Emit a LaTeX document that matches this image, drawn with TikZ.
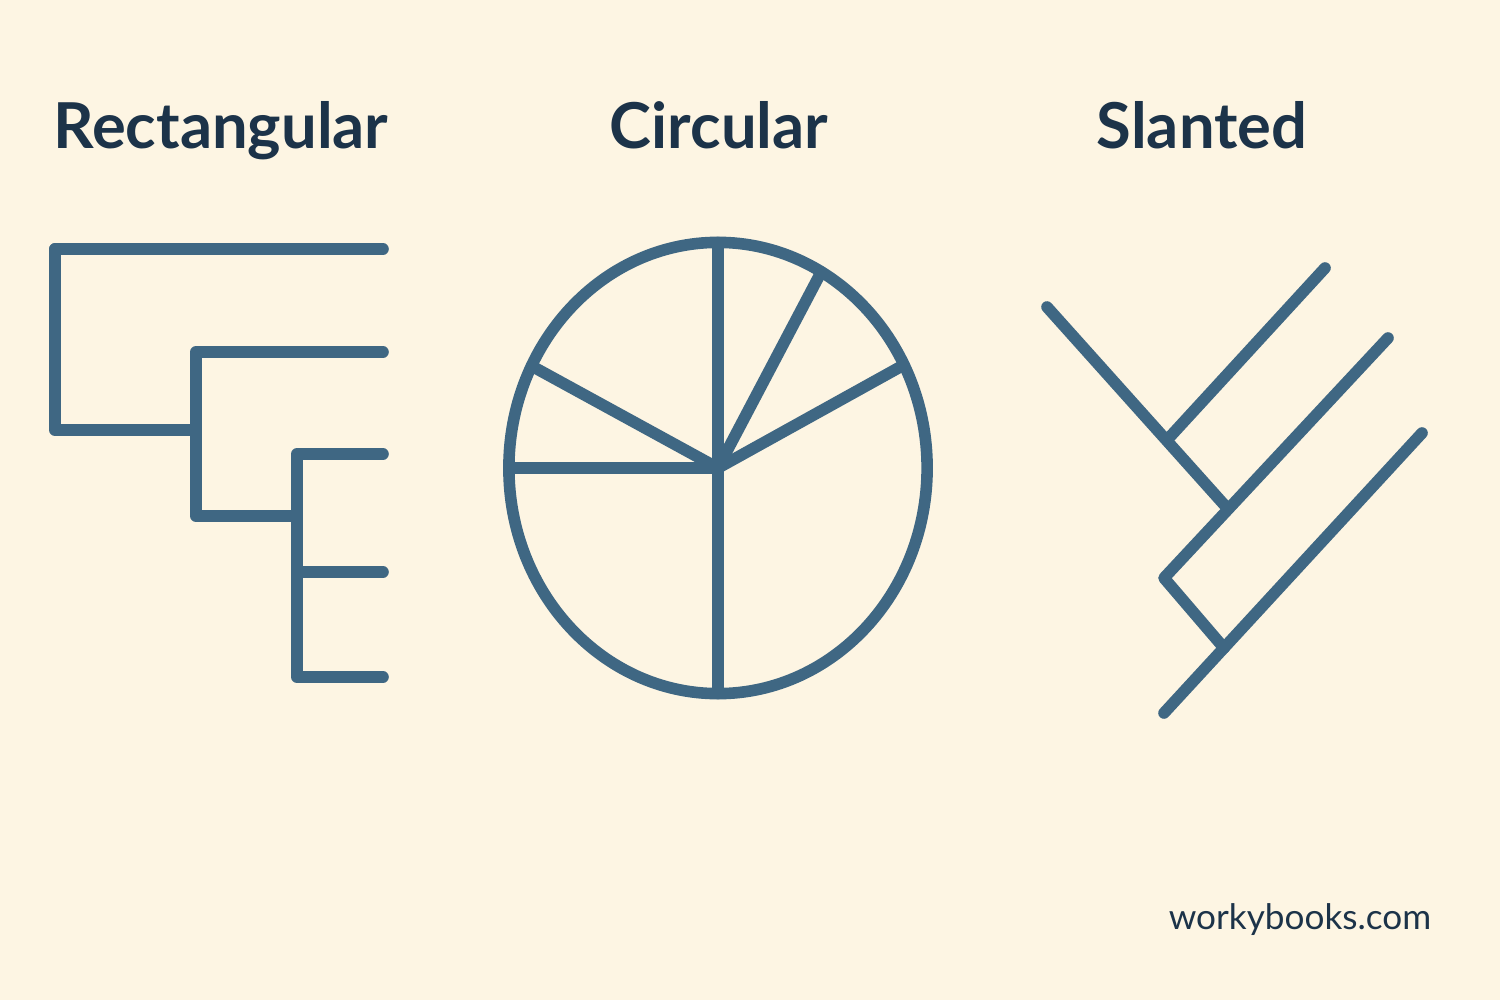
\documentclass[tikz,border=0pt]{standalone}
\usepackage{fontspec}
\setmainfont{Lato}
\definecolor{paper}{HTML}{FDF5E3}
\definecolor{ink}{HTML}{3F6783}
\definecolor{navy}{HTML}{1C3349}
\tikzset{
  title/.style={anchor=base, text=navy, font=\fontsize{18}{22}\selectfont\bfseries, inner sep=0pt},
  brand/.style={anchor=base east, text=navy, font=\fontsize{10}{12}\selectfont, inner sep=0pt}
}
\begin{document}
\begin{tikzpicture}[x=0.01cm, y=-0.01cm, ink, line width=3.3pt, line cap=round, line join=round]
\fill [paper] (0,0) rectangle (1500,1000);

\node [title] (rectTitle) at (221,148) {Rectangular};
\node [title] (circTitle) at (719,148) {Circular};
\node [title] (slantTitle) at (1202,148) {Slanted};

%%%%%%%%%%%%%%%%%%%%%%%%%%%%%%%%%%%%%%%%

\path (55,249) coordinate (root);
\draw (root) -- ++(328, 0);
\draw (root) -- ++(0, 181) -- ++(141, 0) coordinate (joinA);
\draw (joinA) -- ++(0, -78) -- ++(187, 0);
\draw (joinA) -- ++(0, 86) -- ++(101, 0) coordinate (joinB);
\draw (joinB) -- ++(0, -62) -- ++(86, 0);
\draw (joinB) -- ++(0, 161) -- ++(86, 0);
\draw (joinB) ++(0, 56) -- ++(86, 0);

%%%%%%%%%%%%%%%%%%%%%%%%%%%%%%%%%%%%%%%%

\path (718,468) coordinate (hub);
\draw (hub) ellipse [x radius=2.09cm, y radius=2.255cm];
\draw (hub) -- ++(0, -225.5);
\draw (hub) -- ++(0, 225.5);
\draw (hub) -- ++(-209, 0);
\path (531.6,366) coordinate (rimA)
      (821.2,272) coordinate (rimB)
      (903.9,364.9) coordinate (rimC);
\draw (hub) -- (rimA);
\draw (hub) -- (rimB);
\draw (hub) -- (rimC);

%%%%%%%%%%%%%%%%%%%%%%%%%%%%%%%%%%%%%%%%

\path (1047,307) coordinate (stem)
      (1228,509) coordinate (forkA)
      (1164,578) coordinate (elbow)
      (1224,648) coordinate (forkB)
      (1167,440) coordinate (forkTop);
\draw (stem) -- (forkA);
\draw (forkTop) -- (1325,268);
\draw (1388,338) -- (elbow) -- (forkB);
\draw (1422,433) -- (1164,713);

\node [brand] (site) at (1437,929) {workybooks.com};
\end{tikzpicture}
\end{document}
